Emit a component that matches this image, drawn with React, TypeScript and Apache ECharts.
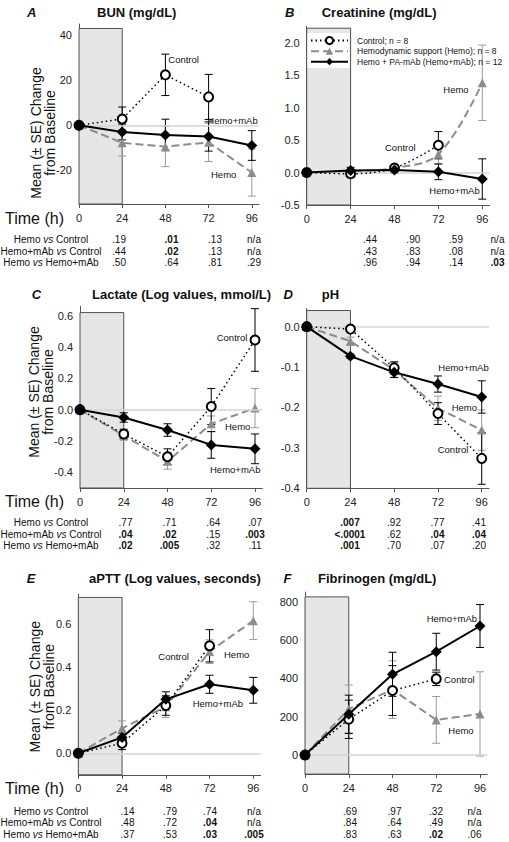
import React, { useEffect, useRef } from 'react';
import * as echarts from 'echarts';

const FONT = '"Liberation Sans", Arial, Helvetica, sans-serif';

// ---------- data ----------
const hours = [0, 24, 48, 72, 96];
const seriesNames = ['Control; n = 8', 'Hemodynamic support (Hemo); n = 8', 'Hemo + PA-mAb (Hemo+mAb); n = 12'];
const noteLabels = ['Control', 'Hemo', 'Hemo+mAb'];
const panelLetters = ['A', 'B', 'C', 'D', 'E', 'F'];
const panelTitles = ['BUN (mg/dL)', 'Creatinine (mg/dL)', 'Lactate (Log values, mmol/L)', 'pH', 'aPTT (Log values, seconds)', 'Fibrinogen (mg/dL)'];
const rowLabels = [['Hemo', 'Control'], ['Hemo+mAb', 'Control'], ['Hemo', 'Hemo+mAb']];

// A: BUN
const bunControl = [0, 2.8, 22.4, 12.6, null];
const bunControlSE = [0, 5.3, 9.2, 10.0, null];
const bunHemo = [0, -7.8, -9.5, -7.6, -21.0];
const bunHemoSE = [0, 5.9, 8.9, 8.5, 10.5];
const bunMab = [0, -3.0, -4.3, -5.0, -9.0];
const bunMabSE = [0, 3.5, 7.0, 6.5, 6.6];
const bunP = [['.19', '*.01', '.13', 'n/a'], ['.44', '*.02', '.13', 'n/a'], ['.50', '.64', '.81', '.29']];

// B: Creatinine
const creControl = [0, -0.02, 0.07, 0.42, null];
const creControlSE = [0, 0.03, 0.04, 0.21, null];
const creHemo = [0, 0.02, 0.07, 0.28, 1.38];
const creHemoSE = [0, 0.03, 0.04, 0.14, 0.58];
const creMab = [0, 0.03, 0.04, 0.01, -0.1];
const creMabSE = [0, 0.05, 0.05, 0.12, 0.31];
const creP = [['.44', '.90', '.59', 'n/a'], ['.43', '.83', '.08', 'n/a'], ['.96', '.94', '.14', '*.03']];

// C: Lactate
const lacControl = [0, -0.155, -0.3, 0.02, 0.445];
const lacControlSE = [0, 0.03, 0.05, 0.115, 0.2];
const lacHemo = [0, -0.165, -0.33, -0.09, 0.01];
const lacHemoSE = [0, 0.03, 0.05, 0.05, 0.125];
const lacMab = [0, -0.05, -0.13, -0.225, -0.25];
const lacMabSE = [0, 0.03, 0.04, 0.085, 0.095];
const lacP = [['.77', '.71', '.64', '.07'], ['*.04', '*.02', '.15', '*.003'], ['*.02', '*.005', '.32', '.11']];

// D: pH
const phControl = [0, -0.006, -0.102, -0.215, -0.326];
const phControlSE = [0, 0.005, 0.015, 0.027, 0.064];
const phHemo = [0, -0.036, -0.107, -0.202, -0.256];
const phHemoSE = [0, 0.01, 0.018, 0.03, 0.05];
const phMab = [0, -0.073, -0.113, -0.142, -0.174];
const phMabSE = [0, 0.005, 0.013, 0.02, 0.04];
const phP = [['*.007', '.92', '.77', '.41'], ['*<.0001', '.62', '*.04', '*.04'], ['*.001', '.70', '.07', '.20']];

// E: aPTT
const apControl = [0, 0.047, 0.222, 0.5, null];
const apControlSE = [0, 0.03, 0.045, 0.075, null];
const apHemo = [0, 0.116, 0.217, 0.473, 0.617];
const apHemoSE = [0, 0.035, 0.05, 0.055, 0.088];
const apMab = [0, 0.074, 0.251, 0.321, 0.293];
const apMabSE = [0, 0.02, 0.035, 0.042, 0.06];
const apP = [['.14', '.79', '.74', 'n/a'], ['.48', '.72', '*.04', 'n/a'], ['.37', '.53', '*.03', '*.005']];

// F: Fibrinogen
const fibControl = [0, 186, 336, 397, null];
const fibControlSE = [0, 100, 130, 35, null];
const fibHemo = [0, 240, 341, 183, 214];
const fibHemoSE = [0, 125, 150, 122, 220];
const fibMab = [0, 212, 421, 539, 673];
const fibMabSE = [0, 100, 115, 96, 112];
const fibP = [['.69', '.97', '.32', 'n/a'], ['.84', '.64', '.49', 'n/a'], ['.83', '.63', '*.02', '.06']];

const PANELS = [
  { ctrl: bunControl, ctrlSE: bunControlSE, hemo: bunHemo, hemoSE: bunHemoSE, mab: bunMab, mabSE: bunMabSE, p: bunP },
  { ctrl: creControl, ctrlSE: creControlSE, hemo: creHemo, hemoSE: creHemoSE, mab: creMab, mabSE: creMabSE, p: creP },
  { ctrl: lacControl, ctrlSE: lacControlSE, hemo: lacHemo, hemoSE: lacHemoSE, mab: lacMab, mabSE: lacMabSE, p: lacP },
  { ctrl: phControl, ctrlSE: phControlSE, hemo: phHemo, hemoSE: phHemoSE, mab: phMab, mabSE: phMabSE, p: phP },
  { ctrl: apControl, ctrlSE: apControlSE, hemo: apHemo, hemoSE: apHemoSE, mab: apMab, mabSE: apMabSE, p: apP },
  { ctrl: fibControl, ctrlSE: fibControlSE, hemo: fibHemo, hemoSE: fibHemoSE, mab: fibMab, mabSE: fibMabSE, p: fibP },
];

// ---------- layout ----------
const LAYOUT: any[] = [
  { left: 79, top: 24, width: 180, height: 180, yMin: -35, yMax: 45, yTicks: [-20, 0, 20, 40], rectTop: 43, dec: 0, smooth: 0,
    letterX: 27, titleX: 97, headY: 12, tableX: [119, 171.5, 215, 254], tableY: [239, 251, 262.7], timeY: 218, yName: [42.5, 133],
    notes: [[168.3, 59.3], [211, 174], [207.3, 120]] },
  { left: 306.7, top: 26.25, width: 182.9, height: 178.75, yMin: -0.5, yMax: 2.25, yTicks: [-0.5, 0, 0.5, 1, 1.5, 2], rectTop: 2.22, dec: 1, smooth: 0.35,
    letterX: 285, titleX: 321.7, headY: 12, tableX: [370, 413.3, 456, 497.5], tableY: [239, 251, 262.7],
    notes: [[385, 147.3], [443.3, 89.3], [429.3, 190.7]] },
  { left: 80, top: 306.3, width: 182.3, height: 181.7, yMin: -0.5, yMax: 0.66, yTicks: [-0.4, -0.2, 0, 0.2, 0.4, 0.6], rectTop: 0.62, dec: 1, smooth: 0,
    letterX: 31.7, titleX: 92, headY: 294, tableX: [125.5, 169.5, 213.3, 255], tableY: [522.3, 534.3, 545.7], timeY: 501.7, yName: [41, 392],
    notes: [[216.7, 337.7], [225, 426.7], [210, 469.3]] },
  { left: 306.7, top: 308.5, width: 182.3, height: 179.8, yMin: -0.4, yMax: 0.045, yTicks: [-0.4, -0.3, -0.2, -0.1, 0], rectTop: 0.04, dec: 1, smooth: 0,
    letterX: 283.5, titleX: 321.7, headY: 294, tableX: [350, 394, 437.5, 479], tableY: [522.3, 534.3, 545.7],
    notes: [[437.7, 449], [451.7, 407.7], [438.3, 367.3]] },
  { left: 78.3, top: 594.2, width: 182.3, height: 180.6, yMin: -0.1, yMax: 0.74, yTicks: [0, 0.2, 0.4, 0.6], rectTop: 0.725, dec: 1, smooth: 0,
    letterX: 26.7, titleX: 89, headY: 578.3, tableX: [127.5, 170, 210, 254], tableY: [811, 822.7, 834.3], timeY: 788.3, yName: [41.8, 686.7],
    notes: [[158.3, 656.7], [224, 654.3], [192.7, 703.3]] },
  { left: 305, top: 592.1, width: 182.3, height: 182, yMin: -100, yMax: 850, yTicks: [0, 200, 400, 600, 800], rectTop: 825, dec: 0, smooth: 0,
    letterX: 283.5, titleX: 318, headY: 578.3, tableX: [350, 394.5, 436, 474.5], tableY: [811, 822.7, 834.3],
    notes: [[444, 679.3], [448.3, 730], [426.7, 618.3]] },
];

const BLACK = '#000';
const GRAY = '#8c8c8c';
const AXIS = '#555';
const TXT = '#111';

function pts(vals: (number | null)[]) {
  const out: number[][] = [];
  hours.forEach((h, k) => { if (vals[k] != null) out.push([h, vals[k] as number]); });
  return out;
}
function errPts(vals: (number | null)[], se: (number | null)[]) {
  const out: number[][] = [];
  hours.forEach((h, k) => { if (vals[k] != null && se[k] != null && (se[k] as number) > 0) out.push([h, vals[k] as number, se[k] as number]); });
  return out;
}

function errSeries(i: number, vals: any[], se: any[], color: string, z: number) {
  return {
    type: 'custom', name: 'err', xAxisIndex: i, yAxisIndex: i, z, silent: true,
    data: errPts(vals, se), encode: { x: 0, y: 1 },
    renderItem: (params: any, api: any) => {
      const x = api.value(0), y = api.value(1), e = api.value(2);
      const p1 = api.coord([x, y + e]);
      const p2 = api.coord([x, y - e]);
      const style = { stroke: color, lineWidth: 1, fill: 'none' };
      return {
        type: 'group', children: [
          { type: 'line', shape: { x1: p1[0], y1: p1[1], x2: p2[0], y2: p2[1] }, style },
          { type: 'line', shape: { x1: p1[0] - 4, y1: p1[1], x2: p1[0] + 4, y2: p1[1] }, style },
          { type: 'line', shape: { x1: p2[0] - 4, y1: p2[1], x2: p2[0] + 4, y2: p2[1] }, style },
        ],
      };
    },
  };
}

function buildOption() {
  const grid: any[] = [];
  const xAxis: any[] = [];
  const yAxis: any[] = [];
  const series: any[] = [];
  const graphic: any[] = [];

  LAYOUT.forEach((L, i) => {
    const D = PANELS[i];
    grid.push({ left: L.left, top: L.top, width: L.width, height: L.height, containLabel: false, outerBoundsMode: 'none' });
    xAxis.push({
      type: 'value', gridIndex: i, min: 0, max: 100,
      axisLine: { show: true, onZero: false, lineStyle: { color: AXIS, width: 1 } },
      axisTick: { show: true, customValues: hours, length: 4, lineStyle: { color: AXIS } },
      axisLabel: { customValues: hours, margin: 8, fontSize: 11, color: '#222', fontFamily: FONT },
      splitLine: { show: false },
    });
    yAxis.push({
      type: 'value', gridIndex: i, min: L.yMin, max: L.yMax,
      axisLine: { show: true, onZero: false, lineStyle: { color: AXIS, width: 1 } },
      axisTick: { show: false },
      axisLabel: { customValues: L.yTicks, margin: 7, fontSize: 11, color: '#222', fontFamily: FONT,
        formatter: (v: number) => v.toFixed(L.dec) },
      splitLine: { show: false },
    });
    // zero reference line
    series.push({
      type: 'line', name: 'zero' + i, xAxisIndex: i, yAxisIndex: i, data: [], z: 1, silent: true,
      markLine: { silent: true, symbol: ['none', 'none'], label: { show: false },
        lineStyle: { color: '#d4d4d4', width: 1.5, type: 'solid' }, data: [{ yAxis: 0 }] },
    });
    // shaded 0-24 h block
    series.push({
      type: 'line', name: 'block' + i, xAxisIndex: i, yAxisIndex: i, data: [], z: 2, silent: true,
      markArea: { silent: true, itemStyle: { color: '#e6e6e6', borderColor: '#505050', borderWidth: 1 },
        data: [[{ coord: [0, L.yMin] }, { coord: [24, L.rectTop] }]] },
    });
    series.push(errSeries(i, D.hemo, D.hemoSE, '#9a9a9a', 3));
    series.push(errSeries(i, D.ctrl, D.ctrlSE, BLACK, 3));
    series.push(errSeries(i, D.mab, D.mabSE, BLACK, 3));
    series.push({
      type: 'line', name: seriesNames[1], xAxisIndex: i, yAxisIndex: i, data: pts(D.hemo), z: 4,
      smooth: L.smooth, symbol: 'triangle', symbolSize: 9, showSymbol: true,
      itemStyle: { color: GRAY }, lineStyle: { color: GRAY, width: 2, type: [8, 4] },
    });
    series.push({
      type: 'line', name: seriesNames[0], xAxisIndex: i, yAxisIndex: i, data: pts(D.ctrl), z: 5,
      smooth: L.smooth, symbol: 'emptyCircle', symbolSize: 9, showSymbol: true,
      itemStyle: { color: BLACK, borderColor: BLACK, borderWidth: 1 }, lineStyle: { color: BLACK, width: 1.5, type: [1.5, 3] },
    });
    series.push({
      type: 'line', name: seriesNames[2], xAxisIndex: i, yAxisIndex: i, data: pts(D.mab), z: 6,
      smooth: 0, symbol: 'diamond', symbolSize: 11, showSymbol: true,
      itemStyle: { color: BLACK }, lineStyle: { color: BLACK, width: 2, type: 'solid' },
    });

    // header texts
    graphic.push({ type: 'text', x: L.letterX, y: L.headY, silent: true,
      style: { text: panelLetters[i], fontSize: 13, fontWeight: 'bold', fontStyle: 'italic', fontFamily: FONT, fill: TXT, align: 'left', verticalAlign: 'middle' } });
    graphic.push({ type: 'text', x: L.titleX, y: L.headY, silent: true,
      style: { text: panelTitles[i], fontSize: 13, fontWeight: 'bold', fontFamily: FONT, fill: TXT, align: 'left', verticalAlign: 'middle' } });
    // annotations
    L.notes.forEach((n: number[], k: number) => {
      graphic.push({ type: 'text', x: n[0], y: n[1], silent: true,
        style: { text: noteLabels[k], fontSize: 9.5, fontFamily: FONT, fill: TXT, align: 'left', verticalAlign: 'middle' } });
    });
    // left column extras
    if (L.timeY) {
      graphic.push({ type: 'text', x: 5, y: L.timeY, silent: true,
        style: { text: 'Time (h)', fontSize: 16, fontFamily: FONT, fill: TXT, align: 'left', verticalAlign: 'middle' } });
      graphic.push({ type: 'text', x: L.yName[0], y: L.yName[1], rotation: Math.PI / 2, silent: true,
        style: { text: 'Mean (± SE) Change\nfrom Baseline', fontSize: 14, lineHeight: 14, fontFamily: FONT, fill: TXT, align: 'center', verticalAlign: 'middle' } });
      rowLabels.forEach((r, k) => {
        graphic.push({ type: 'text', x: 51, y: L.tableY[k], silent: true,
          style: {
            text: '{n|' + r[0] + ' }{i|vs}{n| ' + r[1] + '}', align: 'center', verticalAlign: 'middle',
            rich: {
              n: { fontSize: 10, fontFamily: FONT, fill: TXT },
              i: { fontSize: 10, fontFamily: FONT, fontStyle: 'italic', fill: TXT },
            },
          } });
      });
    }
    // p-value table
    D.p.forEach((row: string[], r: number) => {
      row.forEach((cell: string, c: number) => {
        const bold = cell.startsWith('*');
        graphic.push({ type: 'text', x: L.tableX[c], y: L.tableY[r], silent: true,
          style: { text: bold ? cell.slice(1) : cell, fontSize: 10, fontWeight: bold ? 'bold' : 'normal', fontFamily: FONT, fill: TXT, align: 'center', verticalAlign: 'middle' } });
      });
    });
  });

  // white backing behind legend keys in panel B
  graphic.push({ type: 'rect', z: 3, silent: true, shape: { x: 307.5, y: 33, width: 42, height: 35 }, style: { fill: '#fff' } });

  return {
    animation: false,
    backgroundColor: '#fff',
    textStyle: { fontFamily: FONT },
    legend: {
      data: seriesNames, orient: 'vertical', left: 310, top: 36, itemGap: 1.5, itemWidth: 37, itemHeight: 9,
      padding: 0, selectedMode: false, z: 10,
      textStyle: { fontSize: 8.5, fontFamily: FONT, color: TXT, padding: [0, 0, 0, 4] },
    },
    grid, xAxis, yAxis, series, graphic,
  };
}

export default function App() {
  const ref = useRef<HTMLDivElement>(null);
  useEffect(() => {
    const chart = echarts.init(ref.current as HTMLDivElement, null, { renderer: 'svg', width: 509, height: 842 });
    chart.setOption(buildOption() as any);
    return () => chart.dispose();
  }, []);
  return <div ref={ref} style={{ position: 'fixed', left: 0, top: 0, width: 509, height: 842, background: '#fff' }} />;
}
